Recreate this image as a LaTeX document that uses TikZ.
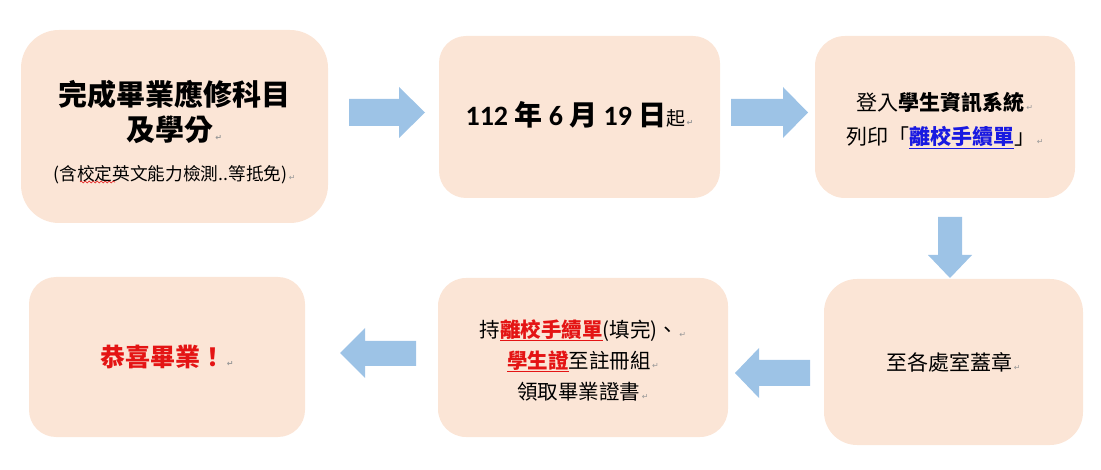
\documentclass[tikz,border=0pt]{standalone}
\usepackage{fontspec}
\setmainfont{Carlito}
\newfontfamily\cjk{Noto Sans CJK TC}
\newfontfamily\dejavu{DejaVu Sans}
\usetikzlibrary{decorations.pathmorphing}
\definecolor{peach}{RGB}{251,229,214}
\definecolor{arrowblue}{RGB}{157,195,230}
\definecolor{tred}{RGB}{228,20,20}
\definecolor{tblue}{RGB}{25,25,225}
\newcommand{\parmark}{{\dejavu\fontsize{8}{8}\selectfont\color{gray!80}\,↵}}
\begin{document}
\begin{tikzpicture}[x=1pt,y=-1pt,
  box/.style={fill=peach, draw=none, inner sep=0pt},
  boxtext/.style={inner sep=0pt, align=center, text=black},
  blockarrow/.style={fill=arrowblue, draw=none},
  spell/.style={draw=tred, line width=0.6pt, decorate, decoration={snake, amplitude=0.9pt, segment length=4pt}}]
\useasboundingbox (0,0) rectangle (1101,470);
% boxes
\node[box, rounded corners=38pt, minimum width=307pt, minimum height=193pt] (b1) at (174.5,126.5) {};
\node[box, rounded corners=27pt, minimum width=281pt, minimum height=162pt] (b2) at (579.5,117) {};
\node[box, rounded corners=30pt, minimum width=260pt, minimum height=162pt] (b3) at (945,117) {};
\node[box, rounded corners=33pt, minimum width=259pt, minimum height=166pt] (b4) at (953.5,362) {};
\node[box, rounded corners=28pt, minimum width=290pt, minimum height=159pt] (b5) at (583,357.5) {};
\node[box, rounded corners=27pt, minimum width=276pt, minimum height=160pt] (b6) at (167,357) {};
% texts
\node[boxtext, font=\cjk\bfseries\fontsize{29}{35}\selectfont] (t1) at (174.5,132)
  {完成畢業應修科目\\及學分\parmark\\[5pt]{\mdseries\fontsize{17.7}{22}\selectfont(含校定英文能力檢測..等抵免)\parmark}};
\node[boxtext, font=\bfseries\fontsize{28}{34}\selectfont] (t2) at (579.5,115)
  {112 {\cjk 年} 6 {\cjk 月} 19 {\cjk 日}{\cjk\mdseries\fontsize{19}{19}\selectfont 起}\parmark};
\node[boxtext, font=\cjk\fontsize{21}{34}\selectfont] (t3) at (945,121)
  {登入{\bfseries 學生資訊系統}\parmark\\列印「{\bfseries\color{tblue}\underline{離校手續單}}」\parmark};
\node[boxtext, font=\cjk\fontsize{21}{25}\selectfont] (t4) at (953.5,362)
  {至各處室蓋章\parmark};
\node[boxtext, font=\cjk\fontsize{20.5}{31}\selectfont] (t5) at (583,360)
  {持{\bfseries\color{tred}\underline{離校手續單}}(填完)、\parmark\\{\bfseries\color{tred}\underline{學生證}}至註冊組\parmark\\領取畢業證書\parmark};
\node[boxtext, font=\cjk\bfseries\fontsize{25}{30}\selectfont] (t6) at (167,357)
  {{\color{tred}恭喜畢業！}\parmark};
% spell-check mark
\draw[spell] (80,182) -- (115,182);
% block arrows
\fill[blockarrow] (349,99) -- (399,99) -- (399,87) -- (425,112.5) -- (399,138) -- (399,126) -- (349,126) -- cycle;
\fill[blockarrow] (731,99) -- (783,99) -- (783,87) -- (808,112.5) -- (783,138) -- (783,126) -- (731,126) -- cycle;
\fill[blockarrow] (938,217) -- (962,217) -- (962,255) -- (972,255) -- (950,278) -- (928,255) -- (938,255) -- cycle;
\fill[blockarrow] (810,360) -- (759,360) -- (759,348) -- (735,373) -- (759,398) -- (759,386) -- (810,386) -- cycle;
\fill[blockarrow] (416,341) -- (365,341) -- (365,328) -- (340,353) -- (365,378) -- (365,366) -- (416,366) -- cycle;
\end{tikzpicture}
\end{document}
